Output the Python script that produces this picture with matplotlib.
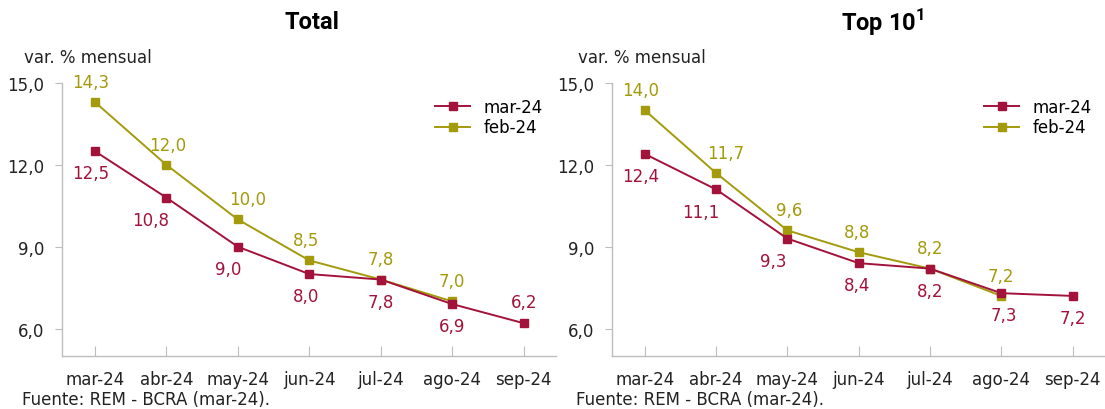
import matplotlib
matplotlib.use('Agg')
import matplotlib.pyplot as plt

meses = ['mar-24', 'abr-24', 'may-24', 'jun-24', 'jul-24', 'ago-24', 'sep-24']

# panel Total
total_mar = [12.5, 10.8, 9.0, 8.0, 7.8, 6.9, 6.2]
total_feb = [14.3, 12.0, 10.0, 8.5, 7.8, 7.0]

# panel Top 10
top_mar = [12.4, 11.1, 9.3, 8.4, 8.2, 7.3, 7.2]
top_feb = [14.0, 11.7, 9.6, 8.8, 8.2, 7.2]

yticks = [6.0, 9.0, 12.0, 15.0]

c_mar = '#A3123A'
c_feb = '#A39A0C'
gris = '#BDBDBD'
negro = '#222222'

plt.rcParams['font.family'] = ['DejaVu Sans']
plt.rcParams['font.size'] = 12
plt.rcParams['mathtext.fontset'] = 'custom'
plt.rcParams['mathtext.rm'] = 'Roboto'
plt.rcParams['mathtext.bf'] = 'Roboto:bold'


def fmt(v):
    return ('%.1f' % v).replace('.', ',')


def panel(ax, mar, feb, dx_mar, dx_feb, mar_arriba_ultimo):
    x_mar = list(range(len(mar)))
    x_feb = list(range(len(feb)))
    ax.plot(x_mar, mar, color=c_mar, lw=1.4, marker='s', ms=5.5, label='mar-24', zorder=3)
    ax.plot(x_feb, feb, color=c_feb, lw=1.4, marker='s', ms=5.5, label='feb-24', zorder=2)

    for i, v in enumerate(feb):
        ax.annotate(fmt(v), (i, v), xytext=(dx_feb[i], 14.5), textcoords='offset points',
                    ha='center', va='center', color=c_feb, fontsize=12)
    for i, v in enumerate(mar):
        dy = -16
        if i == len(mar) - 1 and mar_arriba_ultimo:
            dy = 15
        ax.annotate(fmt(v), (i, v), xytext=(dx_mar[i], dy), textcoords='offset points',
                    ha='center', va='center', color=c_mar, fontsize=12)

    ax.set_xlim(-0.46, 6.45)
    ax.set_ylim(5.0, 15.0)
    ax.set_xticks(range(len(meses)))
    ax.set_xticklabels(meses)
    ax.set_yticks(yticks)
    ax.set_yticklabels([fmt(v) for v in yticks])
    for s in ['top', 'right']:
        ax.spines[s].set_visible(False)
    for s in ['left', 'bottom']:
        ax.spines[s].set_color(gris)
        ax.spines[s].set_linewidth(1.0)
    ax.tick_params(axis='x', direction='in', length=7, color=gris, pad=10, labelcolor=negro)
    ax.tick_params(axis='y', direction='out', length=5, color=gris, pad=8, labelcolor=negro)
    ax.legend(loc='upper left', bbox_to_anchor=(0.725, 1.0), frameon=False,
              handlelength=2.1, handletextpad=0.8, labelspacing=0.15, fontsize=12)


fig = plt.figure(figsize=(11.05, 4.1), dpi=100)
ax1 = fig.add_axes([0.0561, 0.1293, 0.447, 0.666])
ax2 = fig.add_axes([0.5538, 0.1293, 0.446, 0.666])

panel(ax1, total_mar, total_feb,
      [-3, -11, -7, -2, 0, 0, 0], [-3, 1, 7, -2, 0, 0], True)
panel(ax2, top_mar, top_feb,
      [-3, -11, -10, -1, 0, 2, 0], [-3, 7, 1, -1, 0, 0], False)

fig.text(0.282, 0.944, 'Total', ha='center', va='center', fontsize=17,
         fontweight='bold', family=['Roboto', 'DejaVu Sans'])
fig.text(0.799, 0.944, 'Top 10$^{\\mathbf{1}}$', ha='center', va='center', fontsize=17,
         fontweight='bold', family=['Roboto', 'DejaVu Sans'])

for xx in [0.022, 0.523]:
    fig.text(xx, 0.858, 'var. % mensual', ha='left', va='center', fontsize=12, color=negro)
    fig.text(xx - 0.002, 0.025, 'Fuente: REM - BCRA (mar-24).', ha='left', va='center',
             fontsize=12, color=negro)

fig.savefig('out.png', dpi=100)
